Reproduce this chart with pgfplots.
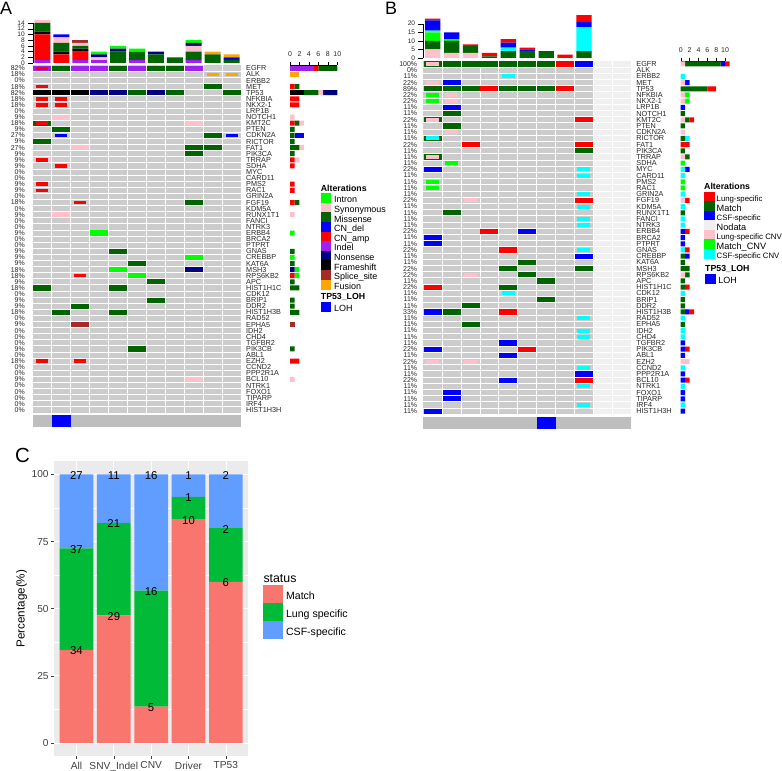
\documentclass[border=0pt]{standalone}
\usepackage{pgfplots}
\usepackage{pgfplotstable}
\usepackage{fontspec}
\setmainfont{Liberation Sans}
\pgfplotsset{compat=1.18}
\pgfplotsset{/pgf/number format/assume math mode=true}
\newcommand{\fs}[1]{\fontsize{#1}{#1}\selectfont}
\definecolor{oncgray}{HTML}{CCCCCC}
\definecolor{lohgray}{HTML}{BEBEBE}
\definecolor{nodata}{HTML}{F0F0F0}
\definecolor{oncgreen}{HTML}{00FF00}
\definecolor{oncpink}{HTML}{FFC0CB}
\definecolor{oncmiss}{HTML}{006400}
\definecolor{oncblue}{HTML}{0000FF}
\definecolor{oncred}{HTML}{FF0000}
\definecolor{oncpurple}{HTML}{A020F0}
\definecolor{oncnavy}{HTML}{000080}
\definecolor{oncblack}{HTML}{000000}
\definecolor{oncsplice}{HTML}{A52A2A}
\definecolor{oncfusion}{HTML}{FFA500}
\definecolor{onccyan}{HTML}{00FFFF}
\definecolor{ggred}{HTML}{F8766D}
\definecolor{gggreen}{HTML}{00BA38}
\definecolor{ggblue}{HTML}{619CFF}
\definecolor{ggbg}{HTML}{EBEBEB}
\pgfdeclareplotmark{cA}{\pgfpathrectangle{\pgfpoint{-9bp}{-2.6bp}}{\pgfpoint{18bp}{5.2bp}}\pgfusepathqfill}
\pgfdeclareplotmark{cAn}{\pgfpathrectangle{\pgfpoint{-6bp}{-1.75bp}}{\pgfpoint{12bp}{3.5bp}}\pgfusepathqfill}
\pgfdeclareplotmark{cB}{\pgfpathrectangle{\pgfpoint{-9bp}{-2.65bp}}{\pgfpoint{18bp}{5.3bp}}\pgfusepathqfill}
\pgfdeclareplotmark{cBn}{\pgfpathrectangle{\pgfpoint{-6.5bp}{-2bp}}{\pgfpoint{13bp}{4bp}}\pgfusepathqfill}
\pgfdeclareplotmark{cL}{\pgfpathrectangle{\pgfpoint{-9.45bp}{-6.15bp}}{\pgfpoint{18.9bp}{12.3bp}}\pgfusepathqfill}
\newcommand{\cellgrid}{%
 \pgfplotsinvokeforeach{0,...,55}{\draw[white,line width=0.9bp] (axis cs:-0.5,##1.5) -- (axis cs:10.5,##1.5);}%
 \pgfplotsinvokeforeach{0,...,9}{\draw[white,line width=0.9bp] (axis cs:##1.5,-0.5) -- (axis cs:##1.5,56.5);}%
}
\pgfplotsset{
 genes/.style={yticklabels={EGFR,ALK,ERBB2,MET,TP53,NFKBIA,NKX2-1,LRP1B,NOTCH1,KMT2C,PTEN,CDKN2A,RICTOR,FAT1,PIK3CA,TRRAP,SDHA,MYC,CARD11,PMS2,RAC1,GRIN2A,FGF19,KDM5A,RUNX1T1,FANCI,NTRK3,ERBB4,BRCA2,PTPRT,GNAS,CREBBP,KAT6A,MSH3,RPS6KB2,APC,HIST1H1C,CDK12,BRIP1,DDR2,HIST1H3B,RAD52,EPHA5,IDH2,CHD4,TGFBR2,PIK3CB,ABL1,EZH2,CCND2,PPP2R1A,BCL10,NTRK1,FOXO1,TIPARP,IRF4,HIST1H3H}},
 base/.style={scale only axis,anchor=south west,clip=false},
 rows/.style={ymin=-0.5,ymax=56.5,y dir=reverse,ytick={0,...,56}},
 cols/.style={xmin=-0.5,xmax=10.5},
 matrix/.style={base,rows,cols,xtick=\empty,
   axis background/.style={fill=oncgray},
   axis line style={draw=none},
   major tick length=0pt,minor tick length=0pt,
   yticklabel pos=left,
   yticklabel style={font=\fs{7},text=black!85,inner xsep=0pt}},
 genelab/.style={base,rows,cols,genes,xtick=\empty,axis line style={draw=none},
   major tick length=0pt,yticklabel pos=right,
   yticklabel style={font=\fs{7.3},text=black!85,anchor=west,inner xsep=0pt,xshift=5bp}},
 lohbar/.style={base,cols,ymin=-1,ymax=1,xtick=\empty,ytick=\empty,axis line style={draw=none},
   axis background/.style={fill=lohgray}},
 topbar/.style={base,cols,ybar stacked,ymin=0,axis x line=none,axis y line*=left,
   ytick align=outside,tick style={black,line width=0.35bp},major tick length=5bp,
   axis line style={line width=0.35bp},
   yticklabel style={font=\fs{6.6},text=black!85,inner xsep=0pt,inner ysep=0pt,xshift=-3bp},
   ylabel={}},
 sidebar/.style={base,rows,xmin=0,xmax=10,xbar stacked,bar width=5bp,
   axis y line=none,axis x line*=top,xtick={0,2,...,10},
   xtick align=outside,tick style={black,line width=0.35bp},major tick length=3bp,
   axis line style={line width=0.35bp},
   xticklabel pos=top,
   xticklabel style={font=\fs{7},text=black!85,inner ysep=1bp,yshift=4.5bp}},
 lg/.style n args={3}{base,hide axis,xmin=0,xmax=1,ymin=0,ymax=1,width=1bp,height=1bp,
   legend cell align=left,
   legend style={at={(0,1)},anchor=north west,draw=none,fill=none,inner sep=0pt,outer sep=0pt,
     row sep=#3,font=\fs{#2},
     nodes={inner sep=0pt,outer sep=0pt,text height=#1*0.7,text depth=#1*0.3}}},
}
\pgfplotstableread{
y purple black fusion splice red miss pink blue navy green
0 5 0 0 0 1 4 0 0 0 0
1 0 0 2 0 0 0 0 0 0 0
3 0 0 0 0 1 1 0 0 0 0
4 0 3 0 0 0 3 1 0 3 0
5 0 0 0 0 2 0 0 0 0 0
6 0 0 0 0 2 0 0 0 0 0
8 0 0 0 0 0 0 1 0 0 0
9 0 0 0 0 1 1 1 0 0 0
10 0 0 0 0 0 1 0 0 0 0
11 0 0 0 0 0 1 0 2 0 0
12 0 0 0 0 0 1 0 0 0 0
13 0 0 0 0 0 2 1 0 0 0
14 0 0 0 0 0 1 0 0 0 0
15 0 0 0 0 1 0 1 0 0 0
16 0 0 0 0 1 0 0 0 0 0
19 0 0 0 0 1 0 0 0 0 0
20 0 0 0 0 1 0 0 0 0 0
22 0 0 0 0 1 1 0 0 0 0
24 0 0 0 0 0 0 1 0 0 0
27 0 0 0 0 0 0 0 0 0 1
30 0 0 0 0 0 1 0 0 0 0
31 0 0 0 0 0 0 0 0 0 1
32 0 0 0 0 0 1 0 0 0 0
33 0 0 0 0 0 0 0 0 1 1
34 0 0 0 0 1 0 0 0 0 1
35 0 0 0 0 0 1 0 0 0 0
36 0 0 0 0 0 2 0 0 0 0
38 0 0 0 0 0 1 0 0 0 0
39 0 0 0 0 0 1 0 0 0 0
40 0 0 0 0 0 2 0 0 0 0
42 0 0 0 1 0 0 0 0 0 0
46 0 0 0 0 0 1 0 0 0 0
48 0 0 0 0 2 0 0 0 0 0
51 0 0 0 0 0 0 1 0 0 0
}\sideA
\pgfplotstableread{
y pink green miss cyan blue red
0 1 0 8 0 1 1
2 0 0 0 1 0 0
3 1 0 0 0 1 0
4 0 0 6 0 0 2
5 1 1 0 0 0 0
6 1 1 0 0 0 0
7 0 0 0 0 1 0
8 0 0 1 0 0 0
9 1 0 1 0 0 1
10 0 0 1 0 0 0
11 1 0 0 0 0 0
12 0 0 1 1 0 0
13 0 0 0 0 0 2
14 0 0 1 0 0 0
15 1 0 1 0 0 0
16 0 1 0 0 0 0
17 0 0 0 1 1 0
18 0 0 0 1 0 0
19 0 1 0 0 0 0
20 0 1 0 0 0 0
21 0 0 0 1 0 0
22 1 0 0 0 0 1
23 0 0 0 1 0 0
24 0 0 1 0 0 0
25 0 0 0 1 0 0
26 0 0 0 1 0 0
27 0 0 0 0 1 1
28 0 0 0 0 1 0
29 0 0 0 0 1 0
30 0 0 0 1 0 1
31 0 0 1 0 1 0
32 0 0 1 0 0 0
33 0 0 2 0 0 0
34 1 0 1 0 0 0
35 0 0 1 0 0 0
36 0 0 1 0 0 1
37 0 0 0 1 0 0
38 0 0 1 0 0 0
39 0 0 1 0 0 0
40 0 0 1 0 1 1
41 0 0 0 1 0 0
42 0 0 1 0 0 0
43 0 0 0 1 0 0
44 0 0 0 1 0 0
45 0 0 0 0 1 0
46 0 0 0 0 1 1
47 0 0 0 0 1 0
48 2 0 0 0 0 0
49 0 0 0 1 0 0
50 0 0 0 0 1 0
51 0 0 0 0 1 1
52 0 0 0 1 0 0
53 0 0 0 0 1 0
54 0 0 0 0 1 0
55 0 0 0 1 0 0
56 0 0 0 0 1 0
}\sideB
\pgfplotstableread{
x purple red black miss pink splice blue navy fusion green
0 1 9 1 3 1 0 0 0 0 0
1 0 3 1 3 2 0 1 0 0 0
2 1 3 1 1 1 1 0 0 0 0
3 1 0 0 0 1 0 0 1 0 1
4 0 0 0 4 0 0 0 1 0 1
5 1 0 0 3 0 0 0 0 0 1
6 0 0 0 3 0 0 0 1 0 0
7 0 0 0 2 0 0 0 0 0 0
8 1 0 0 3 2 0 0 1 0 1
9 0 0 0 3 0 0 0 0 1 0
10 0 0 0 1 0 0 1 0 1 0
}\topA
\pgfplotstableread{
x pink miss green cyan blue red
0 5 5 5 1 6 1
1 3 7 1 0 4 0
2 3 4 0 0 0 1
3 0 1 0 0 0 2
4 0 4 0 2 3 2
5 0 4 0 0 1 1
6 0 4 0 0 0 0
7 0 0 0 0 0 2
8 0 4 0 14 3 4
}\topB
\pgfplotstableread{
x match lung csf
1 34.69 37.76 27.55
2 47.54 34.43 18.03
3 13.51 43.24 43.24
4 83.33 8.33 8.34
5 60 20 20
}\statC
\begin{document}
\begin{tikzpicture}[x=1bp,y=1bp]
\path[use as bounding box] (0,0) rectangle (782,771);
% ---------- Panel A ----------
\begin{axis}[topbar,at={(33bp,708bp)},width=208bp,height=40bp,ymax=14,ytick={0,2,...,14},bar width=16bp]
\pgfplotsinvokeforeach{purple,red,black,miss,pink,splice,blue,navy,fusion,green}{
 \addplot[fill=onc#1,draw=none] table[x=x,y=#1]{\topA};}
\end{axis}
\begin{axis}[matrix,at={(33bp,358bp)},width=208bp,height=347.7bp,
 yticklabels={82\%,18\%,0\%,18\%,82\%,18\%,18\%,0\%,9\%,18\%,9\%,27\%,9\%,27\%,9\%,9\%,9\%,0\%,0\%,9\%,9\%,0\%,18\%,0\%,9\%,0\%,0\%,9\%,0\%,0\%,9\%,9\%,9\%,18\%,18\%,9\%,18\%,0\%,9\%,9\%,18\%,0\%,9\%,0\%,0\%,0\%,9\%,0\%,18\%,0\%,0\%,9\%,0\%,0\%,0\%,0\%,0\%},
 yticklabel style={xshift=-8bp}]
\cellgrid
\addplot[only marks,mark=cA,color=oncpurple] coordinates {(0,0)(2,0)(3,0)(5,0)(8,0)};
\addplot[only marks,mark=cA,color=oncmiss] coordinates {(1,0)(4,0)(6,0)(7,0)(9,3)(5,4)(7,4)(10,4)(0,9)(1,10)(9,11)(0,12)(8,13)(9,13)(8,14)(8,22)(4,30)(5,32)(6,35)(0,36)(4,36)(6,38)(2,39)(1,40)(4,40)(5,46)};
\addplot[only marks,mark=cA,color=oncblack] coordinates {(0,4)(1,4)(2,4)};
\addplot[only marks,mark=cA,color=oncnavy] coordinates {(3,4)(4,4)(6,4)(8,33)};
\addplot[only marks,mark=cA,color=oncpink] coordinates {(1,8)(8,9)(2,13)(0,15)(1,24)(8,51)};
\addplot[only marks,mark=cA,color=oncgreen] coordinates {(3,27)(8,31)(4,33)(5,34)};
\addplot[only marks,mark=cA,color=oncsplice] coordinates {(2,42)};
\addplot[only marks,mark=cAn,color=oncred] coordinates {(0,0)(0,3)(0,5)(1,5)(0,6)(1,6)(0,9)(0,15)(1,16)(0,19)(0,20)(2,22)(2,34)(0,48)(2,48)};
\addplot[only marks,mark=cAn,color=oncblue] coordinates {(1,11)(10,11)};
\addplot[only marks,mark=cAn,color=oncfusion] coordinates {(9,1)(10,1)};
\end{axis}
\begin{axis}[genelab,at={(33bp,358bp)},width=208bp,height=347.7bp]
\end{axis}
\begin{axis}[lohbar,at={(33bp,344bp)},width=208bp,height=12bp]
\addplot[only marks,mark=cL,color=oncblue] coordinates {(1,0)};
\end{axis}
\begin{axis}[sidebar,at={(290bp,358bp)},width=47.3bp,height=347.7bp]
\pgfplotsinvokeforeach{purple,black,fusion,splice,red,miss,pink,blue,navy,green}{
 \addplot[fill=onc#1,draw=none] table[x=#1,y=y]{\sideA};}
\end{axis}
\node[anchor=west,inner sep=0pt,font=\fs{8.8}\bfseries] at (320.7,583) {Alterations};
\begin{axis}[lg={9.5bp}{9}{-2.94bp},at={(320.7bp,576.8bp)},
 legend image code/.code={\fill[#1] (0bp,-1.4bp) rectangle (9.7bp,7.6bp);},
 legend style={/tikz/every odd column/.append style={column sep=3.3bp}}]
\addlegendimage{oncgreen}\addlegendentry{Intron}
\addlegendimage{oncpink}\addlegendentry{Synonymous}
\addlegendimage{oncmiss}\addlegendentry{Missense}
\addlegendimage{oncblue}\addlegendentry{CN\_del}
\addlegendimage{oncred}\addlegendentry{CN\_amp}
\addlegendimage{oncpurple}\addlegendentry{Indel}
\addlegendimage{oncnavy}\addlegendentry{Nonsense}
\addlegendimage{oncblack}\addlegendentry{Frameshift}
\addlegendimage{oncsplice}\addlegendentry{Splice\_site}
\addlegendimage{oncfusion}\addlegendentry{Fusion}
\end{axis}
\node[anchor=west,inner sep=0pt,font=\fs{8.8}\bfseries] at (320.7,474) {TP53\_LOH};
\begin{axis}[lg={9.5bp}{9}{0bp},at={(320.7bp,467.7bp)},
 legend image code/.code={\fill[#1] (0bp,-1.4bp) rectangle (9.7bp,7.6bp);},
 legend style={/tikz/every odd column/.append style={column sep=3.3bp}}]
\addlegendimage{oncblue}\addlegendentry{LOH}
\end{axis}
% ---------- Panel B ----------
\begin{axis}[topbar,at={(423.3bp,713bp)},width=207.9bp,height=34.3bp,ymax=20,ytick={0,5,...,20},bar width=15.3bp]
\pgfplotsinvokeforeach{pink,miss,green,cyan,blue,red}{
 \addplot[fill=onc#1,draw=none] table[x=x,y=#1]{\topB};}
\end{axis}
\begin{axis}[matrix,at={(423.3bp,356.7bp)},width=207.9bp,height=353.4bp,
 yticklabels={100\%,0\%,11\%,22\%,89\%,22\%,22\%,11\%,11\%,22\%,11\%,11\%,11\%,22\%,11\%,11\%,11\%,22\%,11\%,11\%,11\%,11\%,22\%,11\%,11\%,11\%,11\%,22\%,11\%,11\%,22\%,11\%,11\%,22\%,22\%,11\%,22\%,11\%,11\%,11\%,33\%,11\%,11\%,11\%,11\%,11\%,22\%,11\%,22\%,11\%,11\%,22\%,11\%,11\%,11\%,11\%,11\%},
 yticklabel style={xshift=-6bp}]
\addplot[fill=nodata,draw=none] coordinates {(8.5,-0.5)(10.5,-0.5)(10.5,56.5)(8.5,56.5)} --cycle;
\cellgrid
\addplot[only marks,mark=cB,color=oncmiss] coordinates {(0,0)(1,0)(2,0)(3,0)(4,0)(5,0)(6,0)(0,4)(1,4)(2,4)(4,4)(5,4)(6,4)(1,8)(0,9)(1,10)(0,12)(8,14)(0,15)(1,24)(5,32)(4,33)(8,33)(5,34)(6,35)(4,36)(6,38)(2,39)(1,40)(2,42)};
\addplot[only marks,mark=cB,color=oncred] coordinates {(7,0)(3,4)(7,4)(8,9)(2,13)(8,13)(8,22)(3,27)(4,30)(0,36)(4,40)(5,46)(8,51)};
\addplot[only marks,mark=cB,color=oncblue] coordinates {(8,0)(1,3)(1,7)(0,17)(5,27)(0,28)(0,29)(8,31)(0,40)(4,45)(0,46)(4,47)(8,50)(4,51)(1,53)(1,54)(0,56)};
\addplot[only marks,mark=cBn,color=oncpink] coordinates {(0,0)(0,3)(1,5)(1,6)(0,9)(1,11)(0,15)(2,22)(2,34)(0,48)(2,48)};
\addplot[only marks,mark=cBn,color=oncgreen] coordinates {(0,5)(0,6)(1,16)(0,19)(0,20)};
\addplot[only marks,mark=cBn,color=onccyan] coordinates {(4,2)(0,12)(8,17)(8,18)(8,21)(8,23)(8,25)(8,26)(8,30)(4,37)(8,41)(8,43)(8,44)(8,49)(8,52)(8,55)};
\end{axis}
\begin{axis}[genelab,at={(423.3bp,356.7bp)},width=207.9bp,height=353.4bp]
\end{axis}
\begin{axis}[lohbar,at={(423.3bp,342bp)},width=207.9bp,height=12.3bp]
\addplot[only marks,mark=cL,color=oncblue] coordinates {(6,0)};
\end{axis}
\begin{axis}[sidebar,at={(680.7bp,356.7bp)},width=44.4bp,height=353.4bp]
\pgfplotsinvokeforeach{pink,green,miss,cyan,blue,red}{
 \addplot[fill=onc#1,draw=none] table[x=#1,y=y]{\sideB};}
\end{axis}
\node[anchor=west,inner sep=0pt,font=\fs{8.8}\bfseries] at (704,584.3) {Alterations};
\begin{axis}[lg={9.55bp}{9}{-3.1bp},at={(704bp,578bp)},
 legend image code/.code={\fill[#1] (0bp,-1.4bp) rectangle (9.7bp,7.6bp);},
 legend style={/tikz/every odd column/.append style={column sep=2.6bp}}]
\addlegendimage{oncred}\addlegendentry{\fs{7.8}Lung-specific}
\addlegendimage{oncmiss}\addlegendentry{\fs{9.2}Match}
\addlegendimage{oncblue}\addlegendentry{\fs{7.8}CSF-specific}
\addlegendimage{nodata}\addlegendentry{\fs{9.2}Nodata}
\addlegendimage{oncpink}\addlegendentry{\fs{7.9}Lung-specific CNV}
\addlegendimage{oncgreen}\addlegendentry{\fs{9.2}Match\_CNV}
\addlegendimage{onccyan}\addlegendentry{\fs{7.8}CSF-specific CNV}
\end{axis}
\node[anchor=west,inner sep=0pt,font=\fs{8.8}\bfseries] at (705,502.3) {TP53\_LOH};
\begin{axis}[lg={9.5bp}{9}{0bp},at={(705bp,496bp)},
 legend image code/.code={\fill[#1] (0bp,-1.4bp) rectangle (9.7bp,7.6bp);},
 legend style={/tikz/every odd column/.append style={column sep=3.3bp}}]
\addlegendimage{oncblue}\addlegendentry{LOH}
\end{axis}
% ---------- Panel C ----------
\begin{axis}[base,at={(54bp,14.6bp)},width=194.3bp,height=295.4bp,
 ybar stacked,bar width=33.7bp,
 xmin=0.4,xmax=5.6,ymin=-5,ymax=105,
 axis background/.style={fill=ggbg},
 axis line style={draw=none},
 xtick={1,...,5},xticklabels={All,SNV\_Indel,CNV,Driver,TP53},
 ytick={0,25,50,75,100},minor ytick={12.5,37.5,62.5,87.5},
 xtick pos=bottom,ytick pos=left,
 tick align=outside,major tick length=2.7bp,minor tick length=0pt,
 tick style={black!75,line width=0.5bp},
 grid=both,major grid style={white,line width=0.7bp},minor grid style={white,line width=0.35bp},
 xticklabel style={font=\fs{10.2},text=black!75,inner sep=0pt,yshift=-2.5bp},
 yticklabel style={font=\fs{10.2},text=black!75,inner sep=0pt,xshift=-2.5bp},
 ylabel={Percentage(\%)},ylabel style={font=\fs{11.7},at={(axis description cs:0,0.5)},yshift=23.5bp}]
\addplot[fill=ggred,draw=none] table[x=x,y=match]{\statC};
\addplot[fill=gggreen,draw=none] table[x=x,y=lung]{\statC};
\addplot[fill=ggblue,draw=none] table[x=x,y=csf]{\statC};
\end{axis}
\begin{axis}[base,at={(54bp,14.6bp)},width=194.3bp,height=295.4bp,hide axis,
 xmin=0.4,xmax=5.6,ymin=-5,ymax=105,
 nodes near coords,point meta=explicit symbolic,
 nodes near coords style={font=\fs{11.4},anchor=center,text=black,inner sep=0pt,yshift=-1bp}]
\addplot[draw=none,mark=none] coordinates {(1,34.69)[34] (2,47.54)[29] (3,13.51)[5] (4,83.33)[10] (5,60)[6]};
\addplot[draw=none,mark=none] coordinates {(1,72.45)[37] (2,81.97)[21] (3,56.76)[16] (4,91.66)[1] (5,80)[2]};
\addplot[draw=none,mark=none] coordinates {(1,100)[27] (2,100)[11] (3,100)[16] (4,100)[1] (5,100)[2]};
\end{axis}
\node[anchor=west,inner sep=0pt,font=\fs{12.4}] at (263.3,192.7) {status};
\begin{axis}[lg={18.9bp}{10.6}{-2bp},at={(263.3bp,184.5bp)},
 legend image code/.code={\fill[#1] (0bp,-6.7bp) rectangle (19bp,10.3bp);},
 legend style={/tikz/every odd column/.append style={column sep=3.4bp}}]
\addlegendimage{ggred}\addlegendentry{Match}
\addlegendimage{gggreen}\addlegendentry{Lung specific}
\addlegendimage{ggblue}\addlegendentry{CSF-specific}
\end{axis}
% ---------- Panel letters ----------
\node[anchor=base west,inner sep=0pt,font=\fs{18}] at (0,756) {A};
\node[anchor=base west,inner sep=0pt,font=\fs{18}] at (385,756) {B};
\node[anchor=base west,inner sep=0pt,font=\fs{20.5}] at (15,308) {C};
\end{tikzpicture}
\end{document}
